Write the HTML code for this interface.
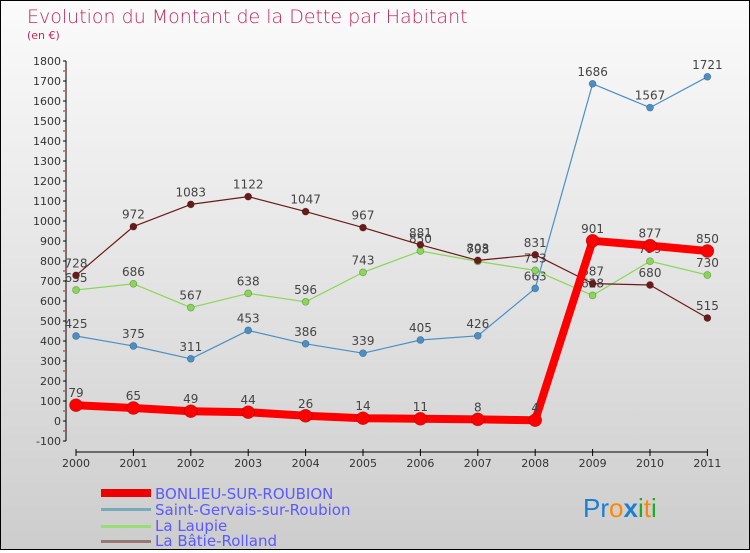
<!DOCTYPE html>
<html><head><meta charset="utf-8"><style>
body{margin:0}
#c{width:748px;height:548px;border:1px solid #000;background:linear-gradient(#fbfbfb,#cdcdcd);position:relative;font-family:"DejaVu Sans","Liberation Sans",sans-serif}
</style></head><body>
<div id="c">
<svg id="s" width="748" height="548" xmlns="http://www.w3.org/2000/svg">
<text x="26" y="22" font-size="19" fill="#c8285a" font-family="DejaVu Sans, sans-serif" font-weight="200">Evolution du Montant de la Dette par Habitant</text>
<text x="26" y="38" font-size="11" fill="#c8285a">(en €)</text>
<g id="axes"></g><g id="series"></g>
<g font-size="15" fill="#5a5aff">
<rect x="100" y="488" width="50" height="8" fill="#e00"/>
<text x="154" y="498">BONLIEU-SUR-ROUBION</text>
<rect x="100" y="507" width="50" height="3" fill="#7ab"/>
<text x="154" y="514">Saint-Gervais-sur-Roubion</text>
<rect x="100" y="524" width="50" height="3" fill="#9d7"/>
<text x="154" y="530">La Laupie</text>
<rect x="100" y="539" width="50" height="3" fill="#977"/>
<text x="154" y="545">La Bâtie-Rolland</text>
</g>
<text x="582" y="516" font-size="26" font-family="Liberation Sans, sans-serif"><tspan fill="#1a7fd0">Pr</tspan><tspan fill="#f80">o</tspan><tspan fill="#1a7fd0" font-weight="bold">x</tspan><tspan fill="#2a2">i</tspan><tspan fill="#f80">t</tspan><tspan fill="#2a2">i</tspan></text>
</svg></div>
<script>
const years=["2000","2001","2002","2003","2004","2005","2006","2007","2008","2009","2010","2011"];
const bonlieu=[79,65,49,44,26,14,11,8,4,901,877,850];
const stGervais=[425,375,311,453,386,339,405,426,663,1686,1567,1721];
const laupie=[655,686,567,638,596,743,850,798,753,628,799,730];
const batie=[728,972,1083,1122,1047,967,881,803,831,687,680,515];
const yTicks=[-100,0,100,200,300,400,500,600,700,800,900,1000,1100,1200,1300,1400,1500,1600,1700,1800];
const NS="http://www.w3.org/2000/svg";
const X=i=>75+i*57.4, Y=v=>420-v*0.2;
function mk(t,a,p){const e=document.createElementNS(NS,t);for(const k in a)e.setAttribute(k,a[k]);p.appendChild(e);return e;}
const ax=document.getElementById('axes');
mk('line',{x1:65,y1:Y(1800),x2:65,y2:Y(-100),stroke:'#000'},ax);
mk('line',{x1:75,y1:451,x2:X(11),y2:451,stroke:'#000'},ax);
yTicks.forEach(v=>{
 mk('line',{x1:62,y1:Y(v),x2:65,y2:Y(v),stroke:'#000'},ax);
 if(v<1800)mk('line',{x1:62,y1:Y(v+50),x2:64,y2:Y(v+50),stroke:'#e00'},ax);
 const t=mk('text',{x:60,y:Y(v)+4,'text-anchor':'end','font-size':11,fill:'#333'},ax);
 t.textContent=v;
 
 
});
years.forEach((y,i)=>{
 mk('line',{x1:X(i),y1:448,x2:X(i),y2:455,stroke:'#000'},ax);
 const t=mk('text',{x:X(i),y:466,'text-anchor':'middle','font-size':11,fill:'#333'},ax);
 t.textContent=y;
 
 
});
const sg=document.getElementById('series');
function draw(vals,color,w,r,name){
 const g=mk('g',{},sg);
 
 
 mk('polyline',{points:vals.map((v,i)=>X(i)+','+Y(v)).join(' '),fill:'none',stroke:color,'stroke-width':w,'stroke-linejoin':'round'},g);
 vals.forEach((v,i)=>{
  const c=mk('circle',{cx:X(i),cy:Y(v),r:r,fill:color,stroke:'rgba(0,0,0,0.3)','stroke-width':0.7},g);
  
  
  const t=mk('text',{x:X(i),y:Y(v)-8,'text-anchor':'middle','font-size':12,fill:'#444'},g);
  t.textContent=v;
  
  
 });
}
draw(stGervais,'#4a90c8',1.2,3.5,'saint-gervais');
draw(laupie,'#88d855',1.2,3.5,'la-laupie');
draw(batie,'#6b1a1a',1.2,3.5,'la-batie');
draw(bonlieu,'#f00',8,6.5,'bonlieu');
</script></body></html>
